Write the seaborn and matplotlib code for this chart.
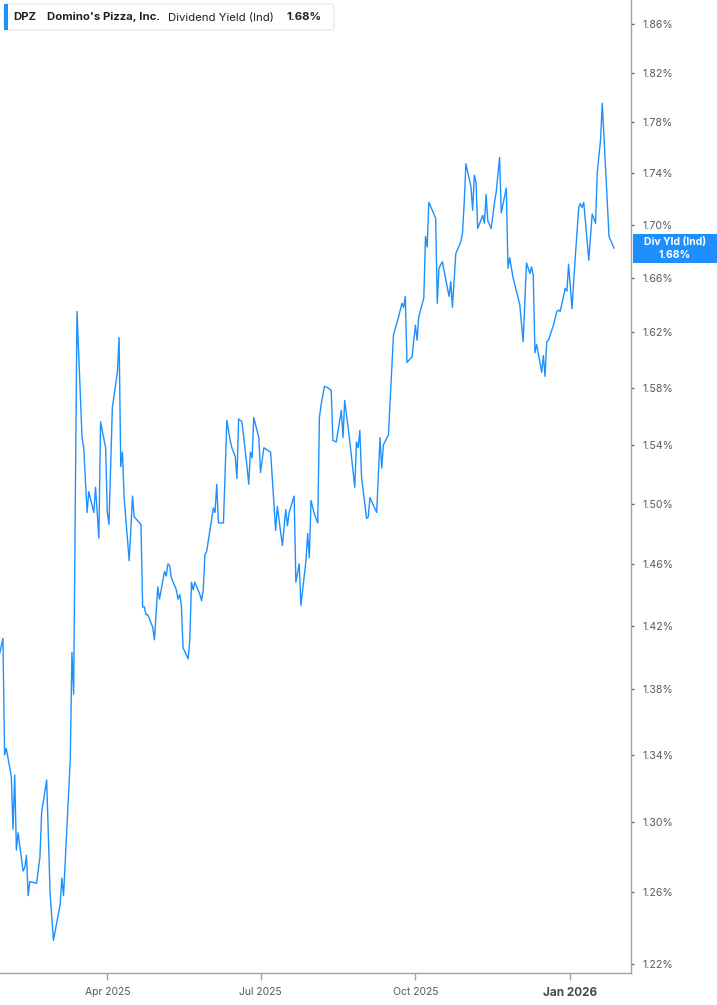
import matplotlib
matplotlib.use("Agg")
import matplotlib.pyplot as plt
import matplotlib.dates as mdates
import seaborn as sns
import pandas as pd
from matplotlib.ticker import FixedLocator, FuncFormatter, NullLocator
from matplotlib.patches import Rectangle, FancyBboxPatch

# ---------------- data ----------------
dates = [
    "2025-01-27", "2025-01-29", "2025-01-30", "2025-01-31", "2025-02-03", "2025-02-04", "2025-02-05",
    "2025-02-06", "2025-02-07", "2025-02-10", "2025-02-11", "2025-02-12", "2025-02-13", "2025-02-14",
    "2025-02-18", "2025-02-20", "2025-02-21", "2025-02-24", "2025-02-26", "2025-02-28", "2025-03-04",
    "2025-03-05", "2025-03-06", "2025-03-10", "2025-03-11", "2025-03-12", "2025-03-14", "2025-03-17",
    "2025-03-18", "2025-03-20", "2025-03-21", "2025-03-24", "2025-03-25", "2025-03-27", "2025-03-28",
    "2025-03-31", "2025-04-01", "2025-04-02", "2025-04-04", "2025-04-07", "2025-04-08", "2025-04-09",
    "2025-04-10", "2025-04-11", "2025-04-14", "2025-04-16", "2025-04-17", "2025-04-21", "2025-04-22",
    "2025-04-23", "2025-04-24", "2025-04-25", "2025-04-28", "2025-04-29", "2025-05-01", "2025-05-02",
    "2025-05-05", "2025-05-06", "2025-05-07", "2025-05-08", "2025-05-09", "2025-05-12", "2025-05-13",
    "2025-05-14", "2025-05-15", "2025-05-16", "2025-05-19", "2025-05-20", "2025-05-21", "2025-05-22",
    "2025-05-23", "2025-05-26", "2025-05-27", "2025-05-28", "2025-05-29", "2025-05-30", "2025-06-03",
    "2025-06-04", "2025-06-05", "2025-06-06", "2025-06-09", "2025-06-11", "2025-06-13", "2025-06-14",
    "2025-06-16", "2025-06-17", "2025-06-18", "2025-06-20", "2025-06-23", "2025-06-24", "2025-06-25",
    "2025-06-26", "2025-06-27", "2025-06-30", "2025-07-01", "2025-07-03", "2025-07-07", "2025-07-10",
    "2025-07-11", "2025-07-14", "2025-07-16", "2025-07-17", "2025-07-18", "2025-07-21", "2025-07-22",
    "2025-07-24", "2025-07-25", "2025-07-28", "2025-07-29", "2025-07-30", "2025-07-31", "2025-08-02",
    "2025-08-04", "2025-08-05", "2025-08-06", "2025-08-08", "2025-08-10", "2025-08-12", "2025-08-13",
    "2025-08-15", "2025-08-18", "2025-08-19", "2025-08-20", "2025-08-23", "2025-08-26", "2025-08-27",
    "2025-08-28", "2025-08-29", "2025-08-30", "2025-09-02", "2025-09-03", "2025-09-04", "2025-09-08",
    "2025-09-10", "2025-09-11", "2025-09-12", "2025-09-15", "2025-09-16", "2025-09-18", "2025-09-21",
    "2025-09-23", "2025-09-24", "2025-09-25", "2025-09-26", "2025-09-29", "2025-10-01", "2025-10-02",
    "2025-10-03", "2025-10-06", "2025-10-07", "2025-10-08", "2025-10-09", "2025-10-13", "2025-10-14",
    "2025-10-15", "2025-10-17", "2025-10-21", "2025-10-22", "2025-10-23", "2025-10-25", "2025-10-28",
    "2025-10-29", "2025-10-30", "2025-10-31", "2025-11-03", "2025-11-04", "2025-11-05", "2025-11-06",
    "2025-11-07", "2025-11-10", "2025-11-11", "2025-11-12", "2025-11-13", "2025-11-15", "2025-11-17",
    "2025-11-18", "2025-11-20", "2025-11-21", "2025-11-24", "2025-11-25", "2025-11-26", "2025-11-28",
    "2025-12-02", "2025-12-04", "2025-12-06", "2025-12-08", "2025-12-09", "2025-12-10", "2025-12-11",
    "2025-12-12", "2025-12-15", "2025-12-16", "2025-12-17", "2025-12-18", "2025-12-19", "2025-12-22",
    "2025-12-24", "2025-12-25", "2025-12-26", "2025-12-29", "2025-12-30", "2025-12-31", "2026-01-02",
    "2026-01-04", "2026-01-06", "2026-01-07", "2026-01-08", "2026-01-09", "2026-01-12", "2026-01-14",
    "2026-01-16", "2026-01-17", "2026-01-19", "2026-01-20", "2026-01-22", "2026-01-24", "2026-01-27",
]
yield_pct = [
    1.402, 1.412, 1.340, 1.344, 1.327, 1.296, 1.328,
    1.284, 1.294, 1.272, 1.274, 1.281, 1.258, 1.266,
    1.265, 1.280, 1.306, 1.325, 1.260, 1.233, 1.253,
    1.268, 1.258, 1.337, 1.403, 1.377, 1.635, 1.545,
    1.538, 1.494, 1.508, 1.494, 1.511, 1.477, 1.556,
    1.538, 1.494, 1.486, 1.566, 1.591, 1.616, 1.525,
    1.535, 1.504, 1.462, 1.505, 1.491, 1.486, 1.432,
    1.432, 1.427, 1.427, 1.419, 1.411, 1.445, 1.437,
    1.455, 1.452, 1.460, 1.459, 1.451, 1.443, 1.437,
    1.440, 1.433, 1.406, 1.399, 1.411, 1.448, 1.443,
    1.448, 1.440, 1.436, 1.443, 1.466, 1.468, 1.497,
    1.494, 1.513, 1.487, 1.487, 1.557, 1.543, 1.538,
    1.532, 1.517, 1.558, 1.556, 1.525, 1.513, 1.535,
    1.531, 1.559, 1.545, 1.521, 1.538, 1.535, 1.482,
    1.498, 1.472, 1.496, 1.485, 1.494, 1.505, 1.448,
    1.460, 1.433, 1.462, 1.480, 1.464, 1.502, 1.493,
    1.487, 1.559, 1.568, 1.581, 1.580, 1.578, 1.543,
    1.542, 1.564, 1.545, 1.571, 1.543, 1.511, 1.542,
    1.538, 1.550, 1.518, 1.490, 1.491, 1.504, 1.494,
    1.545, 1.524, 1.540, 1.547, 1.571, 1.618, 1.631,
    1.641, 1.638, 1.646, 1.598, 1.602, 1.625, 1.614,
    1.631, 1.645, 1.691, 1.683, 1.717, 1.705, 1.641,
    1.667, 1.672, 1.646, 1.657, 1.638, 1.678, 1.687,
    1.694, 1.717, 1.747, 1.729, 1.711, 1.738, 1.733,
    1.697, 1.707, 1.701, 1.723, 1.703, 1.697, 1.717,
    1.725, 1.752, 1.709, 1.728, 1.667, 1.675, 1.660,
    1.640, 1.613, 1.671, 1.663, 1.668, 1.662, 1.605,
    1.611, 1.591, 1.603, 1.588, 1.613, 1.614, 1.625,
    1.635, 1.636, 1.635, 1.652, 1.650, 1.670, 1.637,
    1.676, 1.713, 1.716, 1.713, 1.717, 1.673, 1.708,
    1.701, 1.740, 1.766, 1.795, 1.742, 1.691, 1.682,
]
y_ticks = [1.22, 1.26, 1.30, 1.34, 1.38, 1.42, 1.46, 1.50, 1.54, 1.58, 1.62, 1.66, 1.70, 1.74, 1.78, 1.82, 1.86]
x_tick_dates = ["2025-04-01", "2025-07-01", "2025-10-01", "2026-01-01"]
x_tick_labels = ["Apr 2025", "Jul 2025", "Oct 2025", "Jan 2026"]
ticker_name = "DPZ"
company = "Domino's Pizza, Inc."
metric = "Dividend Yield (Ind)"
tag_label = "Div Yld (Ind)"

# ---------------- style ----------------
BLUE = "#1e8fff"
W, H = 717, 1005
sns.set_theme(style="white")
plt.rcParams["font.family"] = ["Inter", "DejaVu Sans"]

fig = plt.figure(figsize=(W / 100, H / 100), dpi=100)
fig.patch.set_facecolor("white")
ax_l, ax_r, ax_t, ax_b = 0, 631, 0, 973
ax = fig.add_axes([ax_l / W, 1 - ax_b / H, (ax_r - ax_l) / W, (ax_b - ax_t) / H])

df = pd.DataFrame({"date": pd.to_datetime(dates), "yield": yield_pct})
sns.lineplot(data=df, x="date", y="yield", ax=ax, color=BLUE, linewidth=1.0)

ax.set_yscale("log")
ax.set_ylim(1.2151, 1.8802)
ax.set_xlim(pd.Timestamp("2025-01-27 06:30"), pd.Timestamp("2026-02-06 01:30"))

ax.yaxis.tick_right()
ax.yaxis.set_major_locator(FixedLocator(y_ticks))
ax.yaxis.set_minor_locator(NullLocator())
ax.yaxis.set_major_formatter(FuncFormatter(lambda v, p: f"{v:.2f}%"))
ax.set_xticks(pd.to_datetime(x_tick_dates))
ax.set_xticklabels(x_tick_labels)
ax.set_xlabel("")
ax.set_ylabel("")

for s in ["top", "left"]:
    ax.spines[s].set_visible(False)
for s in ["right", "bottom"]:
    ax.spines[s].set_color("#a3a3a3")
    ax.spines[s].set_linewidth(1.0)

ax.tick_params(axis="y", which="major", direction="out", length=2.5, width=1,
               color="#666666", pad=6, labelsize=7.6, labelcolor="#5a5a5a",
               right=True, left=False, labelright=True, labelleft=False)
ax.tick_params(axis="x", which="major", direction="out", length=5, width=1,
               color="#a3a3a3", pad=5, labelsize=7.5, labelcolor="#5a5a5a", bottom=True)
lbls = ax.get_xticklabels()
lbls[-1].set_fontweight("bold")
lbls[-1].set_fontsize(8.5)
lbls[-1].set_color("#4a4a4a")

# ---------------- last value tag ----------------
yd = ax.transData.transform((mdates.date2num(df["date"].iloc[-1]), df["yield"].iloc[-1]))[1]
yf = yd / fig.bbox.height
tag_h = 29 / H
fig.add_artist(Rectangle((633 / W, yf - tag_h / 2), 90 / W, tag_h, transform=fig.transFigure,
                         facecolor=BLUE, edgecolor="none", zorder=5))
fig.text(675 / W, yf + 6.5 / H, tag_label, color="white", fontsize=7.5, fontweight="bold",
         ha="center", va="center", zorder=6)
fig.text(675 / W, yf - 6.5 / H, f"{df['yield'].iloc[-1]:.2f}%", color="white", fontsize=7.5,
         fontweight="bold", ha="center", va="center", zorder=6)

# ---------------- header box ----------------
fig.add_artist(FancyBboxPatch((4 / W, 1 - 30 / H), 330 / W, 26 / H, transform=fig.transFigure,
                              boxstyle="round,pad=0,rounding_size=0.004",
                              facecolor="white", edgecolor="#e4e4e4", linewidth=0.8, zorder=5))
fig.add_artist(Rectangle((4 / W, 1 - 30 / H), 3.5 / W, 26 / H, transform=fig.transFigure,
                         facecolor=BLUE, edgecolor="none", zorder=6))
ty = 1 - 17.5 / H
hfs = 8.2
fig.text(13 / W, ty, ticker_name, fontsize=hfs, fontweight="bold", color="#222222", va="center", zorder=7)
fig.text(47 / W, ty, company, fontsize=hfs, fontweight="bold", color="#222222", va="center", zorder=7)
fig.text(168 / W, ty, metric, fontsize=hfs, color="#222222", va="center", zorder=7)
fig.text(286 / W, ty, f"{yield_pct[-1]:.2f}%", fontsize=hfs, fontweight="bold", color="#222222",
         va="center", zorder=7)

fig.savefig("out.png", dpi=100, facecolor="white")
